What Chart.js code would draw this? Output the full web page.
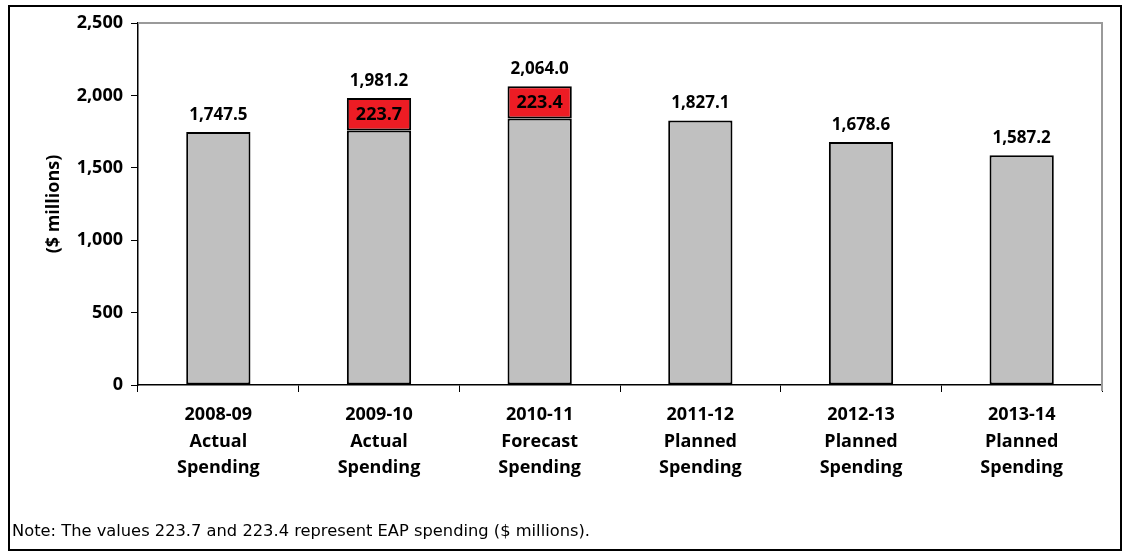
<!DOCTYPE html>
<html>
<head>
<meta charset="utf-8">
<script src="https://cdn.jsdelivr.net/npm/chart.js@4"></script>
<style>
    html, body { margin: 0; padding: 0; background: #fff; }
    #wrap { position: relative; width: 1125px; height: 552px; }
    #chart { position: absolute; left: 0; top: 0; }
    #frame {
        position: absolute; left: 8px; top: 5px; width: 1114px; height: 546px;
        box-sizing: border-box; border: 2px solid #000; pointer-events: none;
    }
    #note {
        position: absolute; left: 12px; top: 520px; line-height: 22px;
        font-family: "DejaVu Sans", sans-serif; font-size: 16.3px; color: #000;
    }
</style>
</head>
<body>
<div id="wrap">
    <canvas id="chart" width="1125" height="552"></canvas>
    <div id="frame"></div>
    <div id="note">Note: The values 223.7 and 223.4 represent EAP spending ($ millions).</div>
</div>
<script>
// Chart data
const years = ['2008-09', '2009-10', '2010-11', '2011-12', '2012-13', '2013-14'];
const kinds = ['Actual', 'Actual', 'Forecast', 'Planned', 'Planned', 'Planned'];
const totals = [1747.5, 1981.2, 2064.0, 1827.1, 1678.6, 1587.2];
const eapSpending = [0, 223.7, 223.4, 0, 0, 0];
const baseSpending = totals.map((t, i) => Math.round((t - eapSpending[i]) * 10) / 10);

const labels = years.map((y, i) => [y, kinds[i], 'Spending']);
const fontFamily = '"Open Sans", sans-serif';

function fmt(v) {
    return v.toLocaleString('en-US', { minimumFractionDigits: 1, maximumFractionDigits: 1 });
}

// Value labels: totals above bars, EAP amounts inside red segments
const valueLabels = {
    id: 'valueLabels',
    afterDatasetsDraw(chart) {
        const ctx = chart.ctx;
        const yScale = chart.scales.y;
        const baseMeta = chart.getDatasetMeta(0);
        ctx.save();
        ctx.fillStyle = '#000';
        ctx.textAlign = 'center';
        totals.forEach((t, i) => {
            const x = baseMeta.data[i].x;
            ctx.font = 'bold 17px ' + fontFamily;
            ctx.textBaseline = 'alphabetic';
            ctx.fillText(fmt(t), x, yScale.getPixelForValue(t) - 12);
            if (eapSpending[i] > 0) {
                const yMid = yScale.getPixelForValue(baseSpending[i] + eapSpending[i] / 2);
                ctx.textBaseline = 'middle';
                ctx.font = 'bold 18px ' + fontFamily;
                ctx.fillText(fmt(eapSpending[i]), x, yMid + 1);
            }
        });
        ctx.restore();
    }
};

// Gray top and right edges of the plot area
const plotFrame = {
    id: 'plotFrame',
    beforeDatasetsDraw(chart) {
        const { ctx, chartArea: a } = chart;
        ctx.save();
        ctx.strokeStyle = '#9a9a9a';
        ctx.lineWidth = 2;
        ctx.beginPath();
        ctx.moveTo(a.left, a.top);
        ctx.lineTo(a.right, a.top);
        ctx.lineTo(a.right, a.bottom + 6);
        ctx.stroke();
        ctx.restore();
    }
};

new Chart(document.getElementById('chart'), {
    type: 'bar',
    data: {
        labels: labels,
        datasets: [{
            label: 'Spending',
            data: baseSpending,
            backgroundColor: '#c0c0c0',
            borderColor: '#000',
            borderWidth: 2,
            borderSkipped: false,
            barPercentage: 0.4,
            categoryPercentage: 1.0
        }, {
            label: 'EAP',
            // no segment where there was no EAP spending
            data: eapSpending.map(v => v > 0 ? v : null),
            backgroundColor: '#ed1c24',
            borderColor: '#000',
            borderWidth: 2,
            borderSkipped: false,
            barPercentage: 0.4,
            categoryPercentage: 1.0
        }]
    },
    options: {
        responsive: false,
        animation: false,
        layout: { padding: { left: 0, right: 23, top: 23, bottom: 0 } },
        plugins: {
            legend: { display: false },
            tooltip: { enabled: false }
        },
        scales: {
            x: {
                stacked: true,
                afterFit: scale => { scale.height = 167; },
                grid: {
                    offset: true,
                    drawOnChartArea: false,
                    drawTicks: true,
                    tickLength: 7,
                    color: '#000',
                    lineWidth: 1
                },
                border: { color: '#000', width: 1.5 },
                ticks: {
                    color: '#000',
                    padding: 10,
                    maxRotation: 0,
                    font: { family: fontFamily, size: 18, weight: 'bold', lineHeight: 1.47 }
                }
            },
            y: {
                stacked: true,
                min: 0,
                max: 2500,
                afterFit: scale => { scale.width = 138; },
                grid: {
                    drawOnChartArea: false,
                    drawTicks: true,
                    tickLength: 7,
                    color: '#000'
                },
                border: { color: '#000', width: 1.5 },
                ticks: {
                    stepSize: 500,
                    color: '#000',
                    padding: 8,
                    font: { family: fontFamily, size: 18, weight: 'bold' },
                    callback: v => v.toLocaleString('en-US')
                },
                title: {
                    display: true,
                    text: '($ millions)',
                    color: '#000',
                    padding: { top: 43, bottom: 0 },
                    font: { family: fontFamily, size: 18, weight: 'bold' }
                }
            }
        }
    },
    plugins: [valueLabels, plotFrame]
});
</script>
</body>
</html>
